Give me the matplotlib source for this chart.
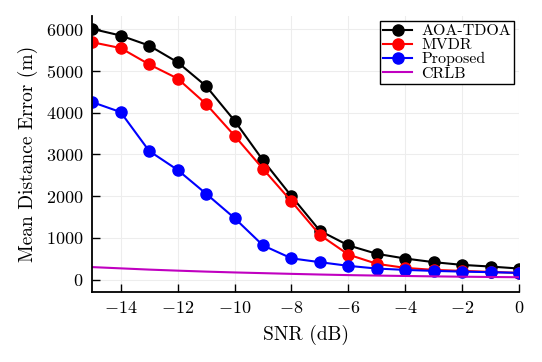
import matplotlib
matplotlib.use("Agg")
import matplotlib.pyplot as plt

snr = [-15, -14, -13, -12, -11, -10, -9, -8, -7, -6, -5, -4, -3, -2, -1, 0]

aoa_tdoa = [6010, 5850, 5610, 5210, 4640, 3810, 2860, 2000, 1170, 820, 618, 505, 418, 353, 313, 265]
mvdr = [5690, 5550, 5160, 4820, 4210, 3450, 2655, 1875, 1070, 600, 378, 281, 233, 209, 185, 161]
proposed = [4255, 4015, 3085, 2630, 2060, 1475, 820, 510, 418, 330, 265, 233, 209, 192, 178, 161]
crlb = [300, 270, 240, 215, 192, 172, 155, 138, 122, 108, 97, 87, 78, 70, 63, 57]

plt.rcParams["font.family"] = "serif"
plt.rcParams["font.serif"] = ["cmr10"]
plt.rcParams["mathtext.fontset"] = "cm"
plt.rcParams["axes.formatter.use_mathtext"] = True

fig = plt.figure(figsize=(5.42, 3.62), dpi=100)
ax = fig.add_axes([0.170, 0.193, 0.788, 0.763])

style = dict(marker="o", markersize=8, linewidth=1.5)
ax.plot(snr, aoa_tdoa, color="black", label="AOA-TDOA", **style)
ax.plot(snr, mvdr, color="red", label="MVDR", **style)
ax.plot(snr, proposed, color="blue", label="Proposed", **style)
ax.plot(snr, crlb, color="#c000c0", linewidth=1.5, label="CRLB")

ax.set_xlim(-15, 0)
ax.set_ylim(-300, 6320)
ax.set_xticks([-14, -12, -10, -8, -6, -4, -2, 0])
ax.set_yticks([0, 1000, 2000, 3000, 4000, 5000, 6000])
ax.grid(True, color="#ededed", linewidth=0.8)
ax.set_axisbelow(True)

for side in ("top", "right"):
    ax.spines[side].set_visible(False)
for side in ("left", "bottom"):
    ax.spines[side].set_linewidth(1.3)

ax.tick_params(direction="in", length=6, width=1.0, labelsize=13, pad=6)
ax.set_xlabel("SNR (dB)", fontsize=14, labelpad=6)
ax.set_ylabel("Mean Distance Error (m)", fontsize=14, labelpad=6)

leg = ax.legend(loc="upper right", fontsize=11.5, fancybox=False, framealpha=1,
                edgecolor="black", borderpad=0.2, labelspacing=0.0,
                handlelength=1.8, handletextpad=0.6, borderaxespad=0.3)
leg.get_frame().set_linewidth(1.0)

fig.savefig("out.png", dpi=100)
